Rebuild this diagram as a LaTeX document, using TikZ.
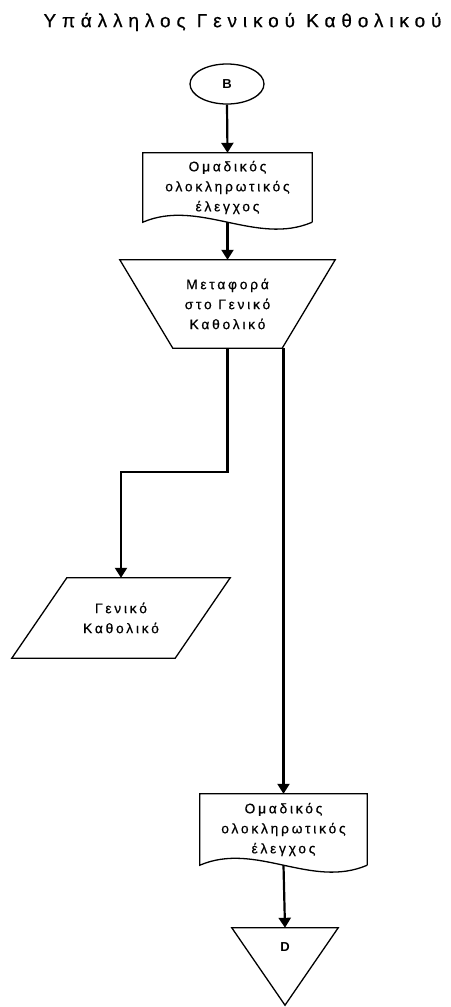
\documentclass[tikz,border=0pt]{standalone}
\usepackage{fontspec}
\setmainfont{Liberation Sans}
\newfontfamily\titlef[LetterSpace=31,FakeBold=0.6]{Liberation Sans}
\newfontfamily\bodyf[LetterSpace=20,FakeBold=0.6]{Liberation Sans}
\usetikzlibrary{arrows.meta,shapes.geometric}
\begin{document}
\begin{tikzpicture}[x=1pt,y=-1pt,
  outline/.style={draw=black,line width=1.3pt,line join=miter},
  holder/.style={draw=none,inner sep=0pt,align=center,font=\bodyf\fontsize{13.8}{20}\selectfont},
  flow/.style={line width=2.2pt,-{Triangle[width=12pt,length=10pt]}},
  marker/.style={font=\bfseries\fontsize{13}{15}\selectfont}]
\useasboundingbox (0,0) rectangle (450,1007);
\fill[white] (0,0) rectangle (450,1007);

% title
\node[font=\titlef\fontsize{19}{22}\selectfont] (title) at (242.5,22) {Υπάλληλος Γενικού Καθολικού};

% B connector
\node[ellipse,outline,minimum width=74pt,minimum height=40pt,inner sep=0pt,marker] (B) at (227,84) {B};

% document 1
\node[holder,minimum width=169pt,minimum height=69pt] (doc1) at (227.5,187.5) {Ομαδικός\\ολοκληρωτικός\\έλεγχος};
\draw[outline] (doc1.south east) -- (doc1.north east) -- (doc1.north west) -- (doc1.south west)
  .. controls ([xshift=56pt,yshift=24pt]doc1.south west) and ([xshift=-56pt,yshift=-24pt]doc1.south east) .. (doc1.south east);

% trapezoid (manual operation)
\node[holder,minimum width=215pt,minimum height=88pt] (trap) at (227.5,304) {Μεταφορά\\στο Γενικό\\Καθολικό};
\draw[outline] (trap.north west) -- (trap.north east) -- ([xshift=-53pt]trap.south east) -- ([xshift=53pt]trap.south west) -- cycle;

% parallelogram
\node[holder,minimum width=218pt,minimum height=80pt] (para) at (121,618) {Γενικό\\Καθολικό};
\draw[outline] ([xshift=55pt]para.north west) -- (para.north east) -- ([xshift=-55pt]para.south east) -- (para.south west) -- cycle;

% document 2
\node[holder,minimum width=167pt,minimum height=71pt] (doc2) at (283.5,829.5) {Ομαδικός\\ολοκληρωτικός\\έλεγχος};
\draw[outline] (doc2.south east) -- (doc2.north east) -- (doc2.north west) -- (doc2.south west)
  .. controls ([xshift=56pt,yshift=24pt]doc2.south west) and ([xshift=-56pt,yshift=-24pt]doc2.south east) .. (doc2.south east);

% off-page connector D
\node[holder,minimum width=106pt,minimum height=77pt] (D) at (285,966.5) {};
\draw[outline] (D.north west) -- (D.north east) -- (D.south) -- cycle;
\node[marker] (Dlabel) at (285,947) {D};

% connectors
\coordinate (bend) at (227.5,472);
\draw[flow] (B.south) -- (doc1.north);
\draw[flow] (doc1.south) -- (trap.north);
\draw[flow] (trap.south) -- (bend) -| (para.north);
\draw[flow] (trap.south -| doc2.north) -- (doc2.north);
\draw[flow] (doc2.south) -- (D.north);
\end{tikzpicture}
\end{document}
